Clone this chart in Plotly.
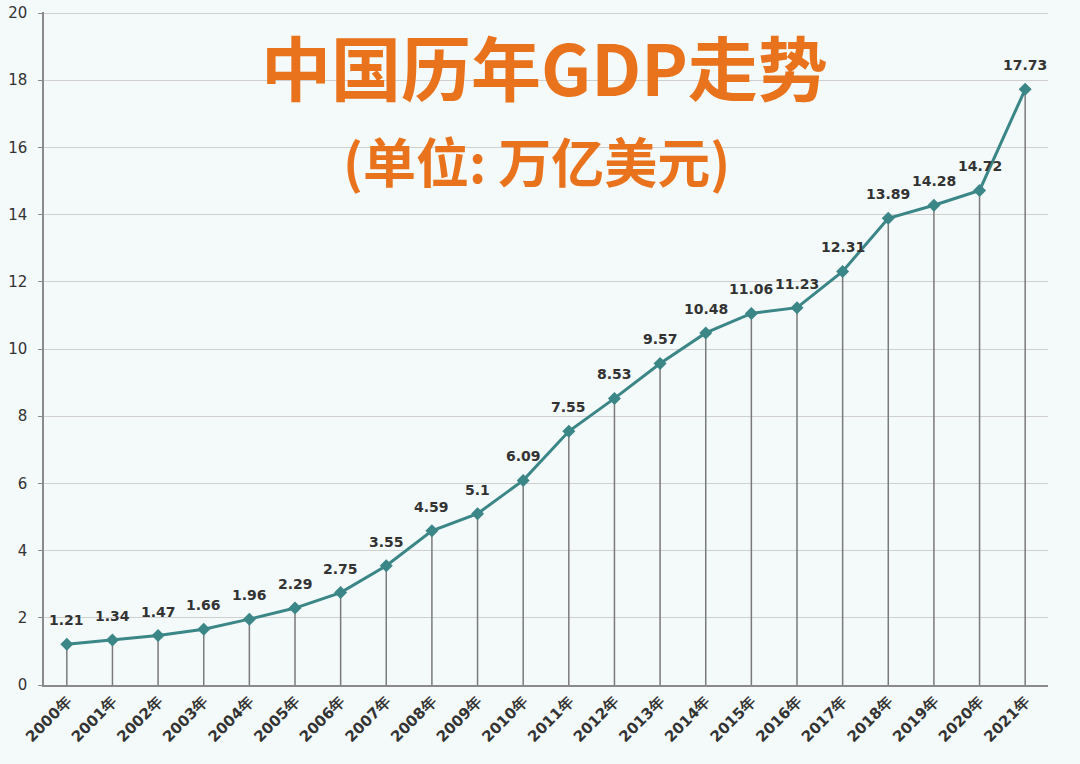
import plotly.graph_objects as go

years = [f"{y}年" for y in range(2000, 2022)]
gdp = [1.21, 1.34, 1.47, 1.66, 1.96, 2.29, 2.75, 3.55, 4.59, 5.1, 6.09,
       7.55, 8.53, 9.57, 10.48, 11.06, 11.23, 12.31, 13.89, 14.28, 14.72, 17.73]
labels = [str(v) for v in gdp]
y_ticks = list(range(0, 21, 2))

title_text = "中国历年GDP走势"
subtitle_text = "(单位: 万亿美元)"

fig = go.Figure()
fig.add_trace(go.Scatter(
    x=years, y=gdp, mode="lines+markers",
    line=dict(color="#3b8686", width=3),
    marker=dict(symbol="diamond", size=10, color="#3b8686"),
    error_y=dict(type="data", symmetric=False, array=[0] * len(gdp),
                 arrayminus=gdp, width=0, thickness=1.5, color="#7a7a7a"),
    cliponaxis=False,
    showlegend=False,
))

for x, y, t in zip(years, gdp, labels):
    fig.add_annotation(x=x, y=y, text=t, showarrow=False, yshift=24,
                       font=dict(family="DejaVu Sans", size=14, color="#333333", weight="bold"))

fig.add_annotation(text=title_text, xref="paper", yref="paper", x=0.499, y=0.921,
                   xanchor="center", yanchor="middle", showarrow=False,
                   font=dict(family="Noto Sans CJK SC", size=70, color="#e8731c", weight="bold"))
fig.add_annotation(text=subtitle_text, xref="paper", yref="paper", x=0.491, y=0.780,
                   xanchor="center", yanchor="middle", showarrow=False,
                   font=dict(family="Noto Sans CJK SC", size=53, color="#e8731c", weight="bold"))

fig.update_layout(
    width=1080, height=764,
    margin=dict(l=44, r=32, t=12, b=79),
    paper_bgcolor="#f4f9fa", plot_bgcolor="#f4f9fa",
    xaxis=dict(type="category", tickangle=-45, showgrid=False, automargin=False,
               tickfont=dict(family="DejaVu Sans", size=15, color="#333333", weight="bold"),
               showline=True, linecolor="#8a8a8a", linewidth=2,
               range=[-0.5, 21.5], ticks=""),
    yaxis=dict(range=[0, 20.03], tickvals=y_ticks, showgrid=True, gridcolor="#cfcfcf",
               gridwidth=1, zeroline=False, showline=True, linecolor="#8a8a8a",
               linewidth=1.5, ticks="outside", ticklen=4, tickcolor="#8a8a8a",
               ticklabelstandoff=8, ticklabeloverflow="allow", automargin=False,
               tickfont=dict(family="DejaVu Sans", size=15, color="#333333")),
)

fig.write_html("out.html")
